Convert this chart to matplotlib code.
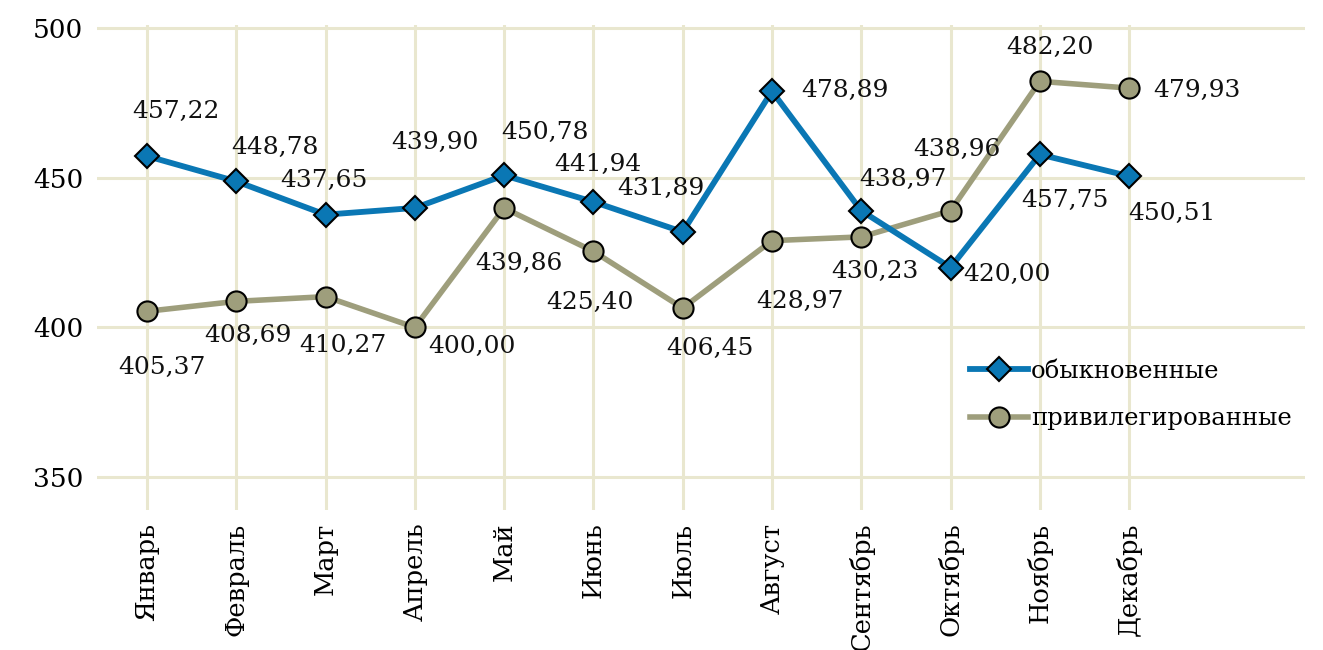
import matplotlib
matplotlib.use("Agg")
import matplotlib.pyplot as plt

months = ["Январь", "Февраль", "Март", "Апрель", "Май", "Июнь", "Июль",
          "Август", "Сентябрь", "Октябрь", "Ноябрь", "Декабрь"]
ordinary = [457.22, 448.78, 437.65, 439.90, 450.78, 441.94, 431.89,
            478.89, 438.97, 420.00, 457.75, 450.51]
preferred = [405.37, 408.69, 410.27, 400.00, 439.86, 425.40, 406.45,
             428.97, 430.23, 438.96, 482.20, 479.93]
series_names = ["обыкновенные", "привилегированные"]
yticks = [350, 400, 450, 500]

# label offsets (pixels) relative to marker centres
off_ord = [(29, 45), (39, 34), (-2, 34), (20, 65), (41, 43), (4, 37), (-22, 43),
           (73, 1), (42, 31), (56, -7), (25, -46), (43, -37)]
off_pref = [(15, -56), (12, -34), (17, -49), (57, -19), (15, -55), (-3, -51), (27, -40),
            (28, -61), (14, -35), (6, 61), (10, 34), (68, -2)]

plt.rcParams['font.family'] = ['DejaVu Serif']
BLUE = "#0a77b4"
OLIVE = "#9e9e7c"
GRID = "#e9e7cf"

fig = plt.figure(figsize=(13.23, 6.5), dpi=100)
ax = fig.add_axes([0.0733, 0.2154, 0.9864 - 0.0733, 0.9615 - 0.2154])

x = list(range(len(months)))
ax.plot(x, ordinary, color=BLUE, lw=4.2, marker='D', ms=12.5,
        mfc=BLUE, mec='black', mew=1.5, label=series_names[0], zorder=4)
ax.plot(x, preferred, color=OLIVE, lw=4.0, marker='o', ms=14.5,
        mfc=OLIVE, mec='black', mew=1.5, label=series_names[1], zorder=3)

fs = 18
for xi, v, (dx, dy) in zip(x, ordinary, off_ord):
    ax.annotate(f"{v:.2f}".replace('.', ','), (xi, v), xytext=(dx, dy),
                textcoords='offset pixels', ha='center', va='center',
                fontsize=fs, color='#111111', zorder=5)
for xi, v, (dx, dy) in zip(x, preferred, off_pref):
    ax.annotate(f"{v:.2f}".replace('.', ','), (xi, v), xytext=(dx, dy),
                textcoords='offset pixels', ha='center', va='center',
                fontsize=fs, color='#111111', zorder=5)

ax.set_xlim(-0.56, 12.97)
ax.set_ylim(339, 501)
ax.set_yticks(yticks)
ax.set_yticklabels([str(t) for t in yticks], fontsize=19)
ax.set_xticks(x)
ax.set_xticklabels(months, rotation=90, fontsize=18.5)
ax.tick_params(length=0, pad=10)
ax.tick_params(axis='x', pad=9)
for s in ax.spines.values():
    s.set_visible(False)
ax.grid(True, color=GRID, lw=2.2)
ax.set_axisbelow(True)

leg = ax.legend(loc='center left', bbox_to_anchor=((970 - 97) / 1208, (510 - 395) / 485),
                frameon=False, fontsize=17.5, handlelength=2.4, handletextpad=0.1,
                labelspacing=1.0, borderaxespad=0, borderpad=0)

fig.savefig("out.png", dpi=100, facecolor='white')
